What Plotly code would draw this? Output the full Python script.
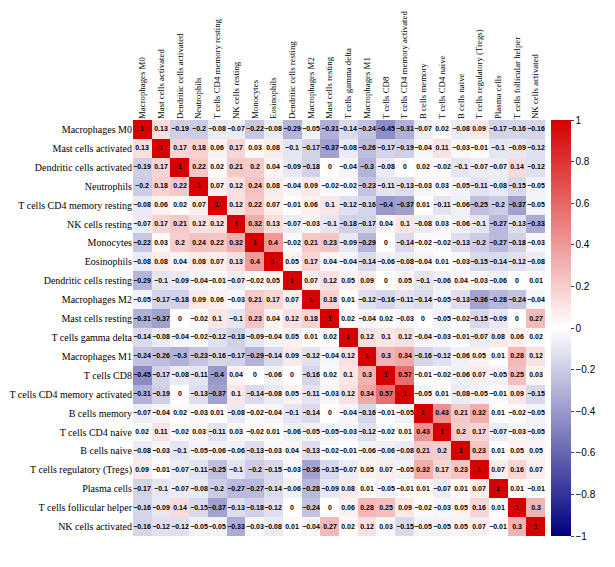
import plotly.graph_objects as go

cells = ["Macrophages M0", "Mast cells activated", "Dendritic cells activated", "Neutrophils",
         "T cells CD4 memory resting", "NK cells resting", "Monocytes", "Eosinophils",
         "Dendritic cells resting", "Macrophages M2", "Mast cells resting", "T cells gamma delta",
         "Macrophages M1", "T cells CD8", "T cells CD4 memory activated", "B cells memory",
         "T cells CD4 naive", "B cells naive", "T cells regulatory (Tregs)", "Plasma cells",
         "T cells follicular helper", "NK cells activated"]

# correlation matrix, one row per cell type
corr = [
    [1, 0.13, -0.19, -0.2, -0.08, -0.07, -0.22, -0.08, -0.29, -0.05, -0.31, -0.14, -0.24, -0.45, -0.31, -0.07, 0.02, -0.08, 0.09, -0.17, -0.16, -0.16],
    [0.13, 1, 0.17, 0.18, 0.06, 0.17, 0.03, 0.08, -0.1, -0.17, -0.37, -0.08, -0.26, -0.17, -0.19, -0.04, 0.11, -0.03, -0.01, -0.1, -0.09, -0.12],
    [-0.19, 0.17, 1, 0.22, 0.02, 0.21, 0.2, 0.04, -0.09, -0.18, 0, -0.04, -0.3, -0.08, 0, 0.02, -0.02, -0.1, -0.07, -0.07, 0.14, -0.12],
    [-0.2, 0.18, 0.22, 1, 0.07, 0.12, 0.24, 0.08, -0.04, 0.09, -0.02, -0.02, -0.23, -0.11, -0.13, -0.03, 0.03, -0.05, -0.11, -0.08, -0.15, -0.05],
    [-0.08, 0.06, 0.02, 0.07, 1, 0.12, 0.22, 0.07, -0.01, 0.06, 0.1, -0.12, -0.16, -0.4, -0.37, 0.01, -0.11, -0.06, -0.25, -0.2, -0.37, -0.05],
    [-0.07, 0.17, 0.21, 0.12, 0.12, 1, 0.32, 0.13, -0.07, -0.03, -0.1, -0.18, -0.17, 0.04, 0.1, -0.08, 0.03, -0.06, -0.1, -0.27, -0.13, -0.33],
    [-0.22, 0.03, 0.2, 0.24, 0.22, 0.32, 1, 0.4, -0.02, 0.21, 0.23, -0.09, -0.29, 0, -0.14, -0.02, -0.02, -0.13, -0.2, -0.27, -0.18, -0.03],
    [-0.08, 0.08, 0.04, 0.08, 0.07, 0.13, 0.4, 1, 0.05, 0.17, 0.04, -0.04, -0.14, -0.06, -0.08, -0.04, 0.01, -0.03, -0.15, -0.14, -0.12, -0.08],
    [-0.29, -0.1, -0.09, -0.04, -0.01, -0.07, -0.02, 0.05, 1, 0.07, 0.12, 0.05, 0.09, 0, 0.05, -0.1, -0.06, 0.04, -0.03, -0.06, 0, 0.01],
    [-0.05, -0.17, -0.18, 0.09, 0.06, -0.03, 0.21, 0.17, 0.07, 1, 0.18, 0.01, -0.12, -0.16, -0.11, -0.14, -0.05, -0.13, -0.36, -0.28, -0.24, -0.04],
    [-0.31, -0.37, 0, -0.02, 0.1, -0.1, 0.23, 0.04, 0.12, 0.18, 1, 0.02, -0.04, 0.02, -0.03, 0, -0.05, -0.02, -0.15, -0.09, 0, 0.27],
    [-0.14, -0.08, -0.04, -0.02, -0.12, -0.18, -0.09, -0.04, 0.05, 0.01, 0.02, 1, 0.12, 0.1, 0.12, -0.04, -0.03, -0.01, -0.07, 0.08, 0.06, 0.02],
    [-0.24, -0.26, -0.3, -0.23, -0.16, -0.17, -0.29, -0.14, 0.09, -0.12, -0.04, 0.12, 1, 0.3, 0.34, -0.16, -0.12, -0.06, 0.05, 0.01, 0.28, 0.12],
    [-0.45, -0.17, -0.08, -0.11, -0.4, 0.04, 0, -0.06, 0, -0.16, 0.02, 0.1, 0.3, 1, 0.57, -0.01, -0.02, -0.06, 0.07, -0.05, 0.25, 0.03],
    [-0.31, -0.19, 0, -0.13, -0.37, 0.1, -0.14, -0.08, 0.05, -0.11, -0.03, 0.12, 0.34, 0.57, 1, -0.05, 0.01, -0.08, -0.05, -0.01, 0.09, -0.15],
    [-0.07, -0.04, 0.02, -0.03, 0.01, -0.08, -0.02, -0.04, -0.1, -0.14, 0, -0.04, -0.16, -0.01, -0.05, 1, 0.43, 0.21, 0.32, 0.01, -0.02, -0.05],
    [0.02, 0.11, -0.02, 0.03, -0.11, 0.03, -0.02, 0.01, -0.06, -0.05, -0.05, -0.03, -0.12, -0.02, 0.01, 0.43, 1, 0.2, 0.17, -0.07, -0.03, -0.05],
    [-0.08, -0.03, -0.1, -0.05, -0.06, -0.06, -0.13, -0.03, 0.04, -0.13, -0.02, -0.01, -0.06, -0.06, -0.08, 0.21, 0.2, 1, 0.23, 0.01, 0.05, 0.05],
    [0.09, -0.01, -0.07, -0.11, -0.25, -0.1, -0.2, -0.15, -0.03, -0.36, -0.15, -0.07, 0.05, 0.07, -0.05, 0.32, 0.17, 0.23, 1, 0.07, 0.16, 0.07],
    [-0.17, -0.1, -0.07, -0.08, -0.2, -0.27, -0.27, -0.14, -0.06, -0.28, -0.09, 0.08, 0.01, -0.05, -0.01, 0.01, -0.07, 0.01, 0.07, 1, 0.01, -0.01],
    [-0.16, -0.09, 0.14, -0.15, -0.37, -0.13, -0.18, -0.12, 0, -0.24, 0, 0.06, 0.28, 0.25, 0.09, -0.02, -0.03, 0.05, 0.16, 0.01, 1, 0.3],
    [-0.16, -0.12, -0.12, -0.05, -0.05, -0.33, -0.03, -0.08, 0.01, -0.04, 0.27, 0.02, 0.12, 0.03, -0.15, -0.05, -0.05, 0.05, 0.07, -0.01, 0.3, 1],
]

cbar_ticks = [1, 0.8, 0.6, 0.4, 0.2, 0, -0.2, -0.4, -0.6, -0.8, -1]

labels = [[f"{v:g}".replace("-", "\u2212") for v in row] for row in corr]

fig = go.Figure(go.Heatmap(
    z=corr, x=cells, y=cells, text=labels, texttemplate="%{text}",
    textfont=dict(family="Liberation Sans", size=7, color="black", weight="bold"),
    zmin=-1, zmax=1,
    colorscale=[[0, "#000080"], [0.5, "#ffffff"], [1, "#d60000"]],
    colorbar=dict(
        x=1.0, xanchor="left", xpad=6, y=0.5, yanchor="middle", len=1, lenmode="fraction",
        ypad=0, thickness=20, outlinewidth=0,
        tickvals=cbar_ticks, ticktext=[f"{t:g}".replace("-", "\u2212") for t in cbar_ticks],
        ticks="outside", ticklen=3, tickfont=dict(family="Liberation Sans", size=10, color="black"),
    ),
))

fig.update_xaxes(side="top", tickangle=-90, showgrid=False, zeroline=False, automargin=False,
                 tickfont=dict(family="Liberation Serif", size=8.8, color="black"))
fig.update_yaxes(autorange="reversed", showgrid=False, zeroline=False, automargin=False,
                 tickfont=dict(family="Liberation Serif", size=10, color="black"))

fig.update_layout(width=615, height=567, margin=dict(l=125, r=78, t=112, b=39),
                  plot_bgcolor="white", paper_bgcolor="white")

fig.write_html("out.html")
